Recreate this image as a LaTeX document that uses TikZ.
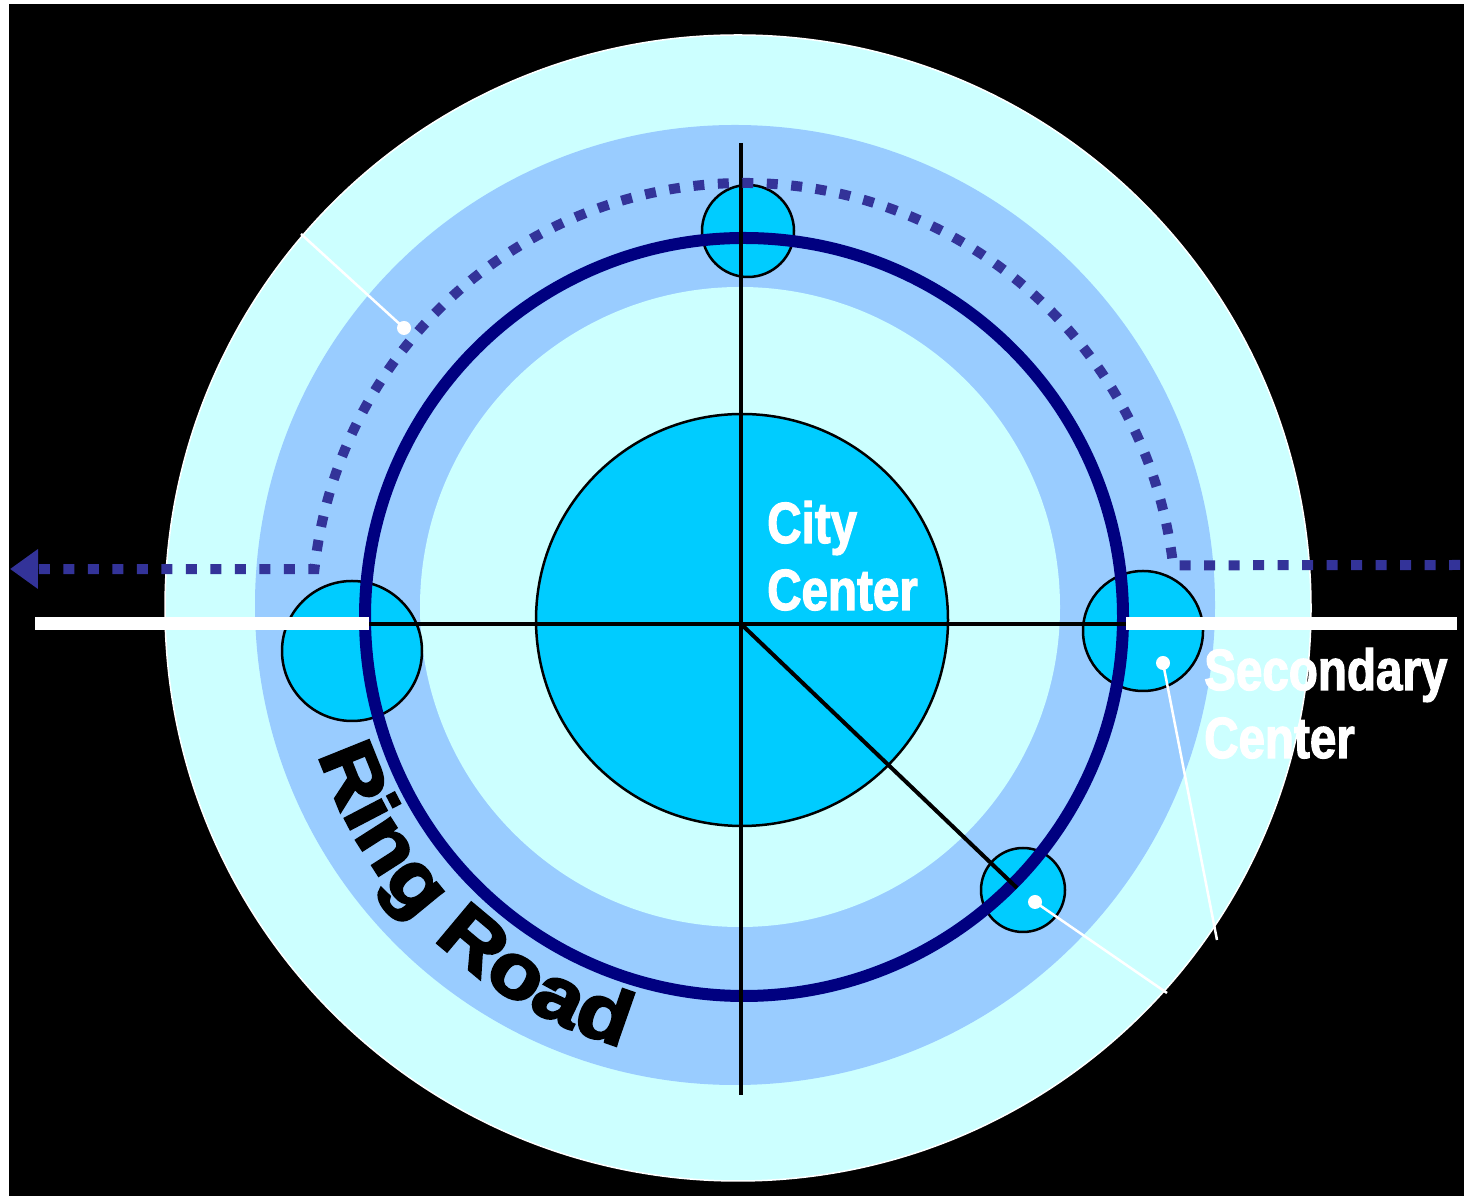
\documentclass[tikz,border=0pt]{standalone}
\usepackage{fontspec}
\usetikzlibrary{arrows.meta,decorations.text}
\newfontfamily\impfont[FakeStretch=0.82,FakeBold=2]{Liberation Sans}
\newfontfamily\ringfont[FakeStretch=1.14,FakeBold=3.2]{Liberation Sans}
\newcommand\ringstyle{\ringfont\bfseries\fontsize{77}{80}\selectfont}
\newcommand\lblstyle{\impfont\bfseries\fontsize{58}{60}\selectfont}
\definecolor{paleC}{HTML}{CCFFFF}
\definecolor{bandC}{HTML}{99CCFF}
\definecolor{cyanC}{HTML}{00CCFF}
\definecolor{navyC}{HTML}{000080}
\definecolor{dotC}{HTML}{333399}
\begin{document}
\begin{tikzpicture}[x=1pt,y=1pt,
  smalldisc/.style={fill=cyanC, draw=black, line width=2.5pt},
  whiteroad/.style={white, line width=13pt},
  axisline/.style={black, line width=4pt},
  leader/.style={white, line width=2.5pt},
  leaderdot/.style={fill=white},
  dotroute/.style={dotC, line width=10pt, dash pattern=on 11pt off 13.5pt},
  lbl/.style={text=white, inner sep=0pt, anchor=base west, font=\lblstyle}]
\useasboundingbox (0,0) rectangle (1464,1196);
% background
\fill[white] (0,0) rectangle (1464,1196);
\fill[black] (9,0) rectangle (1464,1192);
% zones
\filldraw[fill=paleC, draw=white, line width=1.5pt] (738,588) circle[radius=573];
\fill[bandC] (735,591) circle[radius=480];
\fill[paleC] (740,589) circle[radius=320];
% city center
\filldraw[fill=cyanC, draw=black, line width=2.5pt] (742,576) circle[radius=206];
% secondary centers
\filldraw[smalldisc] (748,965) circle[radius=46];
\filldraw[smalldisc] (352,545) circle[radius=70];
\filldraw[smalldisc] (1143,565) circle[radius=60];
\filldraw[smalldisc] (1023,306) circle[radius=42];
% ring road
\coordinate (rc) at (744,579);
\draw[navyC, line width=12pt] (rc) circle[radius=379];
% axes
\coordinate (cc) at (741,572);
\draw[axisline] (741,1053) -- (741,101);
\draw[axisline] (369,572) -- (1126,572);
\draw[axisline] (cc) -- (1017,308);
% white roads
\draw[whiteroad] (35,572.5) -- (369,572.5);
\draw[whiteroad] (1126,572.5) -- (1457,572.5);
% dotted route
\coordinate (dc) at (744,581);
\path (dc) ++(6.6:432) coordinate (ds);
\draw[dotroute, -{Triangle[length=28pt,width=38pt]}] (1460,631) -- (ds)
  arc[start angle=6.6, end angle=173.9, radius=432] -- (10,627);
% leaders
\coordinate (l1a) at (404,868); \coordinate (l1b) at (301,962);
\coordinate (l2a) at (1163,533); \coordinate (l2b) at (1217,256);
\coordinate (l3a) at (1035,294); \coordinate (l3b) at (1167,203);
\draw[leader] (l1a) -- (l1b);
\draw[leader] (l2a) -- (l2b);
\draw[leader] (l3a) -- (l3b);
\fill[leaderdot] (l1a) circle[radius=7];
\fill[leaderdot] (l2a) circle[radius=7];
\fill[leaderdot] (l3a) circle[radius=7];
% labels
\node[lbl] (city1) at (767,653) {City};
\node[lbl] (city2) at (767,586) {Center};
\node[lbl] (sec1) at (1204,506) {Secondary};
\node[lbl] (sec2) at (1204,438) {Center};
% ring road label
\path (rc) ++(196:447) coordinate (rs);
\path[decorate, decoration={text along path, text={|\ringstyle|Ring Road}, text align=center}]
  (rs) arc[start angle=196, end angle=256, radius=447];
\end{tikzpicture}
\end{document}
